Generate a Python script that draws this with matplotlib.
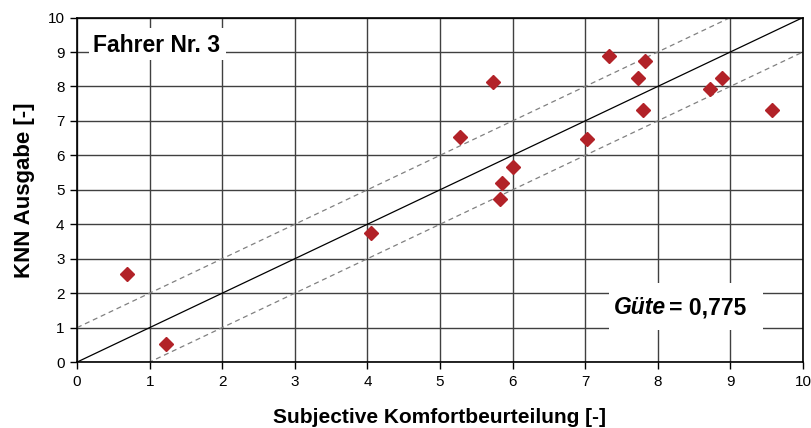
import matplotlib.pyplot as plt
from matplotlib.patches import Rectangle
import numpy as np

# Messwerte Fahrer 3: subjektive Beurteilung vs. KNN Ausgabe
subjektiv = [0.69, 1.23, 4.05, 5.28, 5.73, 5.83, 5.86, 6.01, 7.02,
             7.33, 7.73, 7.80, 7.83, 8.72, 8.88, 9.57]
knn = [2.56, 0.53, 3.74, 6.53, 8.13, 4.72, 5.19, 5.67, 6.47,
       8.89, 8.25, 7.31, 8.73, 7.92, 8.25, 7.31]
ticks = list(range(0, 11))

plt.rcParams['font.family'] = ['Liberation Sans', 'DejaVu Sans']

fig = plt.figure(figsize=(8.11, 4.28), dpi=100)
ax = fig.add_axes([0.095, 0.154, 0.895, 0.805])

ax.set_xlim(0, 10)
ax.set_ylim(0, 10)
ax.set_xticks(ticks)
ax.set_yticks(ticks)
ax.grid(True, color='#404040', linewidth=1.0)
ax.set_axisbelow(True)

# Winkelhalbierende und +-1 Band
d = np.array([0, 10])
ax.plot(d, d, color='black', linewidth=0.9, zorder=2)
ax.plot(d, d + 1, color='#808080', linewidth=0.9, linestyle=(0, (4, 3)), zorder=2)
ax.plot(d, d - 1, color='#808080', linewidth=0.9, linestyle=(0, (4, 3)), zorder=2)

ax.plot(subjektiv, knn, linestyle='none', marker='D', markersize=7,
        color='#B22228', zorder=3, clip_on=False)

for s in ax.spines.values():
    s.set_color('black')
    s.set_linewidth(1.2)
ax.tick_params(direction='out', length=5, width=1, labelsize=11, pad=4)

ax.set_xlabel('Subjective Komfortbeurteilung [-]', fontsize=15, fontweight='bold', labelpad=14)
ax.set_ylabel('KNN Ausgabe [-]', fontsize=16, fontweight='bold', labelpad=9)

# Beschriftungsfelder (weiss hinterlegt)
ax.add_patch(Rectangle((0.165, 8.77), 1.885, 0.92, facecolor='white',
                       edgecolor='none', zorder=1.5))
ax.text(0.22, 9.2, 'Fahrer Nr. 3', fontsize=16.5, fontweight='bold', va='center', zorder=4)

ax.add_patch(Rectangle((7.33, 0.93), 2.12, 1.36, facecolor='white',
                       edgecolor='none', zorder=1.5))
t = ax.text(7.40, 1.57, 'Güte', fontsize=16.5, fontweight='bold', style='italic',
            va='center', zorder=4)
ax.annotate('= 0,775', xy=(1, 0.5), xycoords=t, xytext=(2, 0),
            textcoords='offset points', fontsize=16.5, fontweight='bold',
            va='center', zorder=4)

fig.savefig('out.png', dpi=100)
